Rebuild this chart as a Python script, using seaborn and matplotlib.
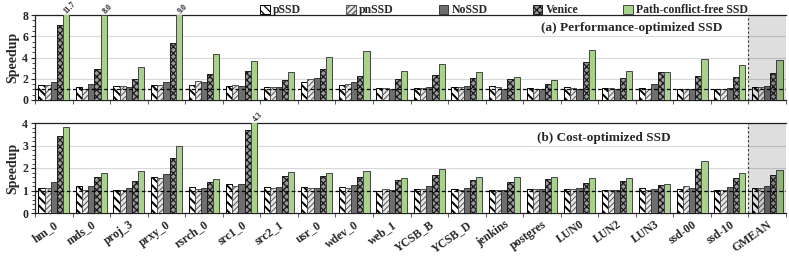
import numpy as np
import pandas as pd
import matplotlib
matplotlib.use("Agg")
import matplotlib.pyplot as plt
from matplotlib.patches import Patch
import seaborn as sns

workloads = ["hm_0", "mds_0", "proj_3", "prxy_0", "rsrch_0", "src1_0", "src2_1", "usr_0",
             "wdev_0", "web_1", "YCSB_B", "YCSB_D", "jenkins", "postgres", "LUN0", "LUN2",
             "LUN3", "ssd-00", "ssd-10", "GMEAN"]
configs = ["pSSD", "pnSSD", "NoSSD", "Venice", "Path-conflict-free SSD"]

# (a) Performance-optimized SSD
pssd_a = [1.41, 1.20, 1.30, 1.38, 1.40, 1.30, 1.20, 1.72, 1.40, 1.15, 1.15, 1.25, 1.35, 1.10, 1.25, 1.10, 1.10, 1.00, 1.00, 1.25]
pnssd_a = [1.40, 1.05, 1.30, 1.40, 1.78, 1.38, 1.20, 1.97, 1.50, 1.10, 1.15, 1.20, 1.25, 1.00, 1.15, 1.10, 1.00, 1.07, 1.00, 1.25]
nossd_a = [1.66, 1.50, 1.25, 1.65, 1.67, 1.30, 1.20, 2.04, 1.70, 1.05, 1.20, 1.30, 1.05, 1.00, 1.07, 1.00, 1.50, 1.07, 1.15, 1.30]
venice_a = [7.05, 2.90, 1.95, 5.35, 2.45, 2.75, 1.85, 2.90, 2.30, 2.00, 2.40, 2.05, 2.00, 1.47, 3.55, 2.05, 2.60, 2.30, 2.13, 2.50]
pcf_a = [11.7, 8.0, 3.15, 9.0, 4.35, 3.65, 2.65, 4.07, 4.65, 2.75, 3.40, 2.60, 2.20, 1.85, 4.70, 2.75, 2.65, 3.90, 3.25, 3.75]

# (b) Cost-optimized SSD
pssd_b = [1.12, 1.21, 1.04, 1.60, 1.15, 1.28, 1.15, 1.15, 1.15, 1.00, 1.06, 1.07, 1.04, 1.06, 1.07, 1.03, 1.09, 1.06, 1.03, 1.12]
pnssd_b = [1.12, 1.04, 1.04, 1.57, 1.06, 1.21, 1.09, 1.10, 1.09, 1.06, 1.06, 1.03, 1.01, 1.07, 1.06, 1.03, 1.04, 1.18, 1.03, 1.12]
nossd_b = [1.36, 1.19, 1.12, 1.73, 1.10, 1.27, 1.15, 1.10, 1.24, 1.04, 1.18, 1.13, 1.04, 1.06, 1.10, 1.03, 1.06, 1.10, 1.15, 1.18]
venice_b = [3.43, 1.58, 1.43, 2.43, 1.37, 3.70, 1.64, 1.63, 1.61, 1.46, 1.70, 1.46, 1.39, 1.49, 1.34, 1.42, 1.24, 1.97, 1.57, 1.69]
pcf_b = [3.82, 1.76, 1.88, 2.99, 1.49, 4.30, 1.84, 1.80, 1.88, 1.57, 1.94, 1.60, 1.60, 1.60, 1.54, 1.55, 1.30, 2.31, 1.79, 1.91]

panel_titles = ["(a) Performance-optimized SSD", "(b) Cost-optimized SSD"]
ylims = [8, 4]
yticks = [[0, 2, 4, 6, 8], [0, 1, 2, 3, 4]]

sns.set_style("ticks")
plt.rcParams["font.family"] = ["Liberation Serif", "DejaVu Serif"]
plt.rcParams["font.weight"] = "bold"
plt.rcParams["hatch.linewidth"] = 0.9

styles = [
    dict(facecolor="white", edgecolor="black", hatch="\\\\\\\\", hlw=1.4),
    dict(facecolor="#e6e6e6", edgecolor="#555555", hatch="//////", hlw=0.7),
    dict(facecolor="#6e6e6e", edgecolor="#3a3a3a", hatch=None, hlw=0.9),
    dict(facecolor="#9a9a9a", edgecolor="#1a1a1a", hatch="xxxxx", hlw=0.9),
    dict(facecolor="#a9d18e", edgecolor="#454545", hatch=None, hlw=0.9),
]


def style_patch(p, st):
    p.set_facecolor(st["facecolor"])
    p.set_edgecolor(st["edgecolor"])
    p.set_linewidth(0.7)
    if st["hatch"]:
        p.set_hatch(st["hatch"])
        try:
            p.set_hatch_linewidth(st["hlw"])
        except AttributeError:
            pass


def make_df(series):
    rows = []
    for cfg, vals in zip(configs, series):
        for w, v in zip(workloads, vals):
            rows.append({"workload": w, "config": cfg, "speedup": v})
    return pd.DataFrame(rows)


fig = plt.figure(figsize=(7.89, 2.56), dpi=100)
ax_a = fig.add_axes([35 / 789, 1 - 100 / 256, 751 / 789, 85 / 256])
ax_b = fig.add_axes([35 / 789, 1 - 213 / 256, 751 / 789, 90 / 256])

datasets = [
    [pssd_a, pnssd_a, nossd_a, venice_a, pcf_a],
    [pssd_b, pnssd_b, nossd_b, venice_b, pcf_b],
]
title_pos = [(0.795, 0.85), (0.757, 0.83)]

for k, (ax, series) in enumerate(zip([ax_a, ax_b], datasets)):
    df = make_df(series)
    sns.barplot(data=df, x="workload", y="speedup", hue="config", order=workloads,
                hue_order=configs, ax=ax, width=0.82, legend=False, saturation=1)
    for cont, st in zip(ax.containers, styles):
        for p in cont.patches:
            style_patch(p, st)
            p.set_zorder(3)
    top = ylims[k]
    ax.set_ylim(0, top)
    ax.set_xlim(-0.5, len(workloads) - 0.5)
    ax.set_yticks(yticks[k])
    ax.yaxis.set_minor_locator(matplotlib.ticker.MultipleLocator(0.5 if k == 0 else 0.2))
    ax.tick_params(axis="y", which="major", length=3, labelsize=8.5, pad=2)
    ax.tick_params(axis="y", which="minor", length=2)
    ax.yaxis.grid(True, color="#d9d9d9", lw=0.8)
    ax.set_axisbelow(True)
    ax.axhline(1.0, color="black", ls=(0, (3, 2)), lw=0.9, zorder=4)
    gm = len(workloads) - 1
    ax.axvspan(gm - 0.5, gm + 0.5, color="black", alpha=0.13, lw=0, zorder=5)
    ax.axvline(gm - 0.5, color="#333333", ls=(0, (2, 2)), lw=0.8, zorder=6)
    ax.set_ylabel("Speedup", fontsize=10, fontweight="bold", labelpad=2)
    ax.set_xlabel("")
    for s in ["left", "bottom", "top"]:
        ax.spines[s].set_color("#222222")
        ax.spines[s].set_linewidth(0.9)
    ax.spines["right"].set_visible(False)
    ax.set_xticks(np.arange(-0.5, len(workloads)), minor=True)
    ax.tick_params(axis="x", which="minor", length=3, color="#444444")
    ax.tick_params(axis="x", which="major", length=0)
    for cont in ax.containers:
        for p, v in zip(cont.patches, cont.datavalues):
            if v >= top:
                ax.text(p.get_x() + p.get_width() / 2 + 0.1, top, f"{v:.1f}",
                        rotation=45, fontsize=5.8, fontweight="bold", ha="center", va="bottom",
                        clip_on=False)
    ax.text(title_pos[k][0], title_pos[k][1], panel_titles[k], transform=ax.transAxes,
            ha="center", va="center", fontsize=9.5, fontweight="bold", zorder=7,
            bbox=dict(facecolor="white", edgecolor="none", pad=1))

ax_a.set_xticklabels([])
ax_b.set_xticklabels(workloads, rotation=35, ha="right", rotation_mode="anchor",
                     fontsize=8.5, fontweight="bold")
ax_b.tick_params(axis="x", which="major", pad=4)

handles = [Patch(facecolor=st["facecolor"], edgecolor=st["edgecolor"],
                 hatch=st["hatch"], lw=0.7) for st in styles]
fig.legend(handles, configs, loc="upper left", bbox_to_anchor=(252 / 789, 1.015), ncol=5,
           frameon=False, fontsize=8.5, handlelength=0.8, handleheight=0.8,
           handletextpad=0.3, columnspacing=3.8, borderpad=0.2)

fig.savefig("out.png", dpi=100)
